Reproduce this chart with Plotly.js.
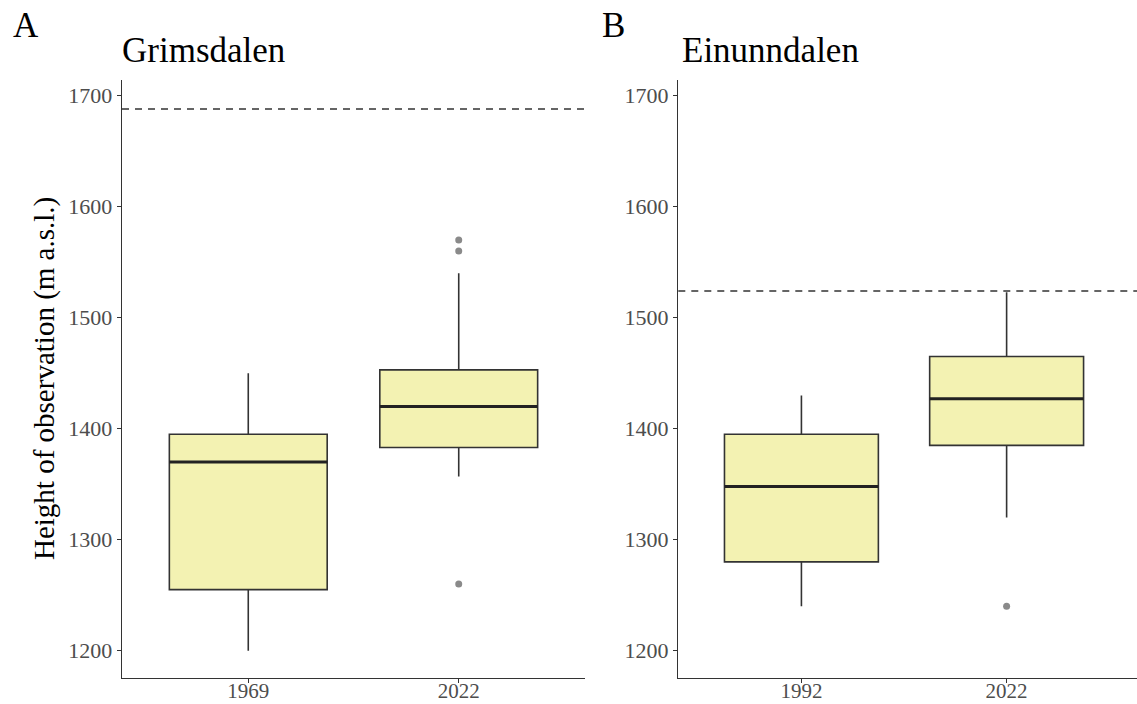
<!DOCTYPE html>
<html>
<head>
<meta charset="utf-8">
<script src="https://cdn.plot.ly/plotly-3.0.1.min.js"></script>
<style>
  html, body { margin: 0; padding: 0; background: #fff; }
  #chart { width: 1137px; height: 704px; }
</style>
</head>
<body>
<div id="chart"></div>
<script>
// Grimsdalen: observation heights (m a.s.l.) per survey year
const grimsYears = ['1969', '2022'];
const grimsQ1 = [1255, 1383];
const grimsMedian = [1370, 1420];
const grimsQ3 = [1395, 1453];
const grimsLower = [1200, 1357];
const grimsUpper = [1450, 1540];
const grimsOutliersX = ['2022', '2022', '2022'];
const grimsOutliersY = [1570, 1560, 1260];
const grimsLimit = 1688;

// Einunndalen: observation heights (m a.s.l.) per survey year
const einYears = ['1992', '2022'];
const einQ1 = [1280, 1385];
const einMedian = [1348, 1427];
const einQ3 = [1395, 1465];
const einLower = [1240, 1320];
const einUpper = [1430, 1523];
const einOutliersX = ['2022'];
const einOutliersY = [1240];
const einLimit = 1524;

const yTicks = [1200, 1300, 1400, 1500, 1600, 1700];

const FILL = '#F3F2B2';
const EDGE = '#333333';
const SERIF = '"Liberation Serif", "Times New Roman", serif';
const BOX_W = 0.75;

function panelTraces(years, q1, med, q3, lo, hi, outX, outY, xa, ya) {
  const pos = years.map((_, i) => i + 1);
  const traces = [{
    type: 'box',
    x: pos, q1: q1, median: med, q3: q3,
    lowerfence: lo, upperfence: hi,
    width: BOX_W,
    whiskerwidth: 0,
    boxpoints: false,
    fillcolor: FILL,
    line: { color: EDGE, width: 1.6 },
    hoverinfo: 'skip',
    xaxis: xa, yaxis: ya, showlegend: false
  }];
  // thicker median bars
  pos.forEach((p, i) => {
    traces.push({
      type: 'scatter', mode: 'lines',
      x: [p - BOX_W / 2, p + BOX_W / 2], y: [med[i], med[i]],
      line: { color: '#222222', width: 3 },
      hoverinfo: 'skip', xaxis: xa, yaxis: ya, showlegend: false
    });
  });
  traces.push({
    type: 'scatter', mode: 'markers',
    x: outX.map(v => years.indexOf(v) + 1), y: outY,
    marker: { color: '#8a8a8a', size: 7 },
    hoverinfo: 'skip', xaxis: xa, yaxis: ya, showlegend: false
  });
  return traces;
}

const data = [].concat(
  panelTraces(grimsYears, grimsQ1, grimsMedian, grimsQ3, grimsLower, grimsUpper,
              grimsOutliersX, grimsOutliersY, 'x', 'y'),
  panelTraces(einYears, einQ1, einMedian, einQ3, einLower, einUpper,
              einOutliersX, einOutliersY, 'x2', 'y2')
);

const yRange = [1175.7, 1714.1];
const yDomain = [1 - 677.7 / 704, 1 - 80 / 704];

function yAxis(anchor) {
  return {
    anchor: anchor, domain: yDomain, range: yRange,
    tickvals: yTicks, ticktext: yTicks.map(String),
    showgrid: false, zeroline: false,
    showline: true, linecolor: EDGE, linewidth: 1.3,
    ticks: 'outside', ticklen: 4, tickcolor: EDGE, tickwidth: 1.1,
    tickfont: { family: SERIF, size: 22, color: '#4D4D4D' },
    fixedrange: true
  };
}
function xAxis(anchor, domain, range, labels) {
  return {
    anchor: anchor, domain: domain, range: range,
    tickvals: labels.map((_, i) => i + 1), ticktext: labels,
    showgrid: false, zeroline: false,
    showline: true, linecolor: EDGE, linewidth: 1.3,
    ticks: 'outside', ticklen: 4, tickcolor: EDGE, tickwidth: 1.1,
    tickfont: { family: SERIF, size: 21, color: '#4D4D4D' },
    ticklabelstandoff: -10,
    fixedrange: true
  };
}

function paperX(px) { return px / 1137; }
function paperY(px) { return 1 - px / 704; }

const layout = {
  width: 1137, height: 704,
  margin: { l: 0, r: 0, t: 0, b: 0 },
  paper_bgcolor: '#ffffff', plot_bgcolor: '#ffffff',
  xaxis: xAxis('y', [paperX(122), paperX(585)], [0.4, 2.6], grimsYears),
  yaxis: yAxis('x'),
  xaxis2: xAxis('y2', [paperX(678.3), 1], [0.4, 0.4 + 458.7 / 205.2], einYears),
  yaxis2: yAxis('x2'),
  shapes: [
    { type: 'line', xref: 'x domain', yref: 'y', x0: 0, x1: 1, y0: grimsLimit, y1: grimsLimit,
      line: { color: EDGE, width: 1.5, dash: '7px,6px' } },
    { type: 'line', xref: 'x2 domain', yref: 'y2', x0: 0, x1: 1, y0: einLimit, y1: einLimit,
      line: { color: EDGE, width: 1.5, dash: '7px,6px' } }
  ],
  annotations: [
    { text: 'A', xref: 'paper', yref: 'paper', x: paperX(11), y: paperY(25),
      xanchor: 'left', yanchor: 'middle', showarrow: false,
      font: { family: SERIF, size: 35, color: '#000' } },
    { text: 'Grimsdalen', xref: 'paper', yref: 'paper', x: paperX(120), y: paperY(50),
      xanchor: 'left', yanchor: 'middle', showarrow: false,
      font: { family: SERIF, size: 35, color: '#000' } },
    { text: 'B', xref: 'paper', yref: 'paper', x: paperX(600), y: paperY(25),
      xanchor: 'left', yanchor: 'middle', showarrow: false,
      font: { family: SERIF, size: 35, color: '#000' } },
    { text: 'Einunndalen', xref: 'paper', yref: 'paper', x: paperX(680), y: paperY(50),
      xanchor: 'left', yanchor: 'middle', showarrow: false,
      font: { family: SERIF, size: 35, color: '#000' } },
    { text: 'Height of observation (m a.s.l.)', xref: 'paper', yref: 'paper',
      x: paperX(44), y: paperY(379), textangle: -90,
      xanchor: 'center', yanchor: 'middle', showarrow: false,
      font: { family: SERIF, size: 29, color: '#000' } }
  ]
};

Plotly.newPlot('chart', data, layout, { displayModeBar: false, staticPlot: true });
</script>
</body>
</html>
